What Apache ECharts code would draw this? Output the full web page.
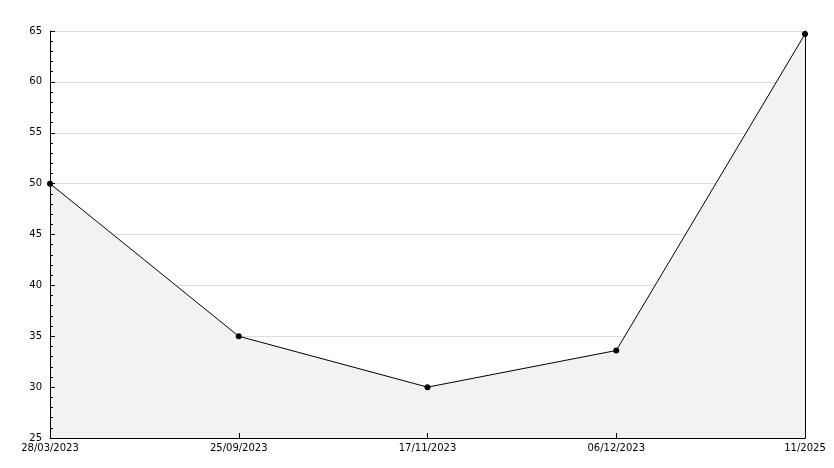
<!DOCTYPE html>
<html><head><meta charset="utf-8">
<script src="https://cdn.jsdelivr.net/npm/echarts@6/dist/echarts.min.js"></script>
<style>html,body{margin:0;padding:0;background:#fff}#c{width:834px;height:468px}</style>
</head><body><div id="c"></div>
<script>
const categories = ['28/03/2023', '25/09/2023', '17/11/2023', '06/12/2023', '11/2025'];
const values = [50, 35, 30, 33.6, 64.7];
const yMin = 25, yMax = 65, yStep = 5, yMinorStep = 1;

const chart = echarts.init(document.getElementById('c'));
const font = { fontFamily: 'DejaVu Sans', fontSize: 10, color: '#000' };
const hidden = { axisLine: { show: false }, axisTick: { show: false }, axisLabel: { show: false }, splitLine: { show: false } };
chart.setOption({
  animation: false,
  backgroundColor: '#fff',
  grid: { left: 50, right: 29, top: 31, bottom: 30 },
  xAxis: {
    type: 'category', data: categories, boundaryGap: false, z: 5,
    axisLine: { lineStyle: { color: '#000', width: 1 } },
    axisTick: { show: true, inside: true, length: 5, lineStyle: { color: '#000' } },
    axisLabel: Object.assign({ margin: 5, showMinLabel: true, showMaxLabel: true, interval: 0 }, font),
    splitLine: { show: false }
  },
  yAxis: [{
    type: 'value', min: yMin, max: yMax, interval: yStep, position: 'left', z: 0,
    axisLine: { show: false }, axisTick: { show: false },
    axisLabel: Object.assign({ margin: 8 }, font),
    splitLine: { show: true, lineStyle: { color: '#dddddd', width: 1 } }
  }, Object.assign({}, hidden, {
    type: 'value', min: yMin, max: yMax, interval: yStep, position: 'left', offset: 0, z: 5,
    axisLine: { show: true, lineStyle: { color: '#000', width: 1 } },
    axisTick: { show: true, inside: true, length: 5, lineStyle: { color: '#000' } }
  }), Object.assign({}, hidden, {
    type: 'value', min: yMin, max: yMax, interval: yMinorStep, position: 'left', offset: 0, z: 5,
    axisTick: { show: true, inside: true, length: 3, lineStyle: { color: '#000' } }
  }), Object.assign({}, hidden, {
    type: 'value', min: yMin, max: yMax, interval: yStep, position: 'right', z: 5,
    axisLine: { show: true, lineStyle: { color: '#000', width: 1 } }
  })],
  series: [{
    type: 'line', data: values, yAxisIndex: 0, z: 2,
    symbol: 'circle', symbolSize: 6, showAllSymbol: true,
    itemStyle: { color: '#000' },
    lineStyle: { color: '#000', width: 1 },
    areaStyle: { color: '#f2f2f2', opacity: 1 }
  }]
});
</script></body></html>
